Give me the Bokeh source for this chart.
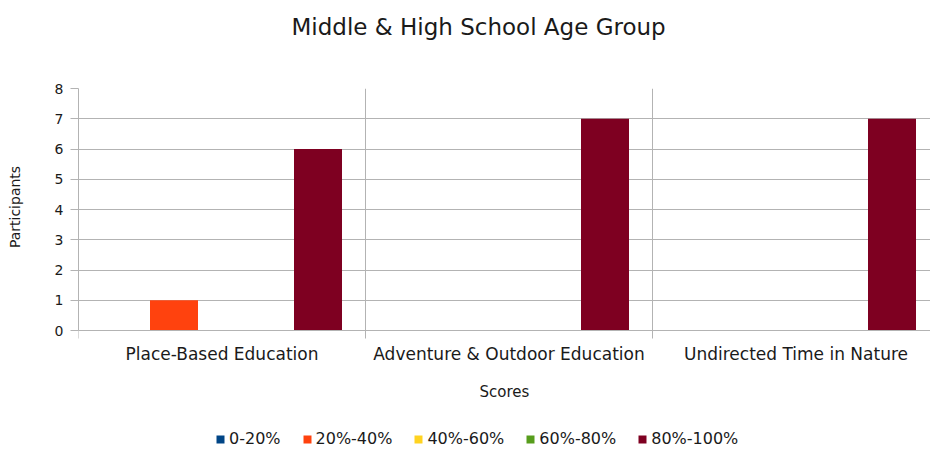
from bokeh.plotting import figure
from bokeh.models import (Range1d, FixedTicker, Legend, LegendItem, ColumnDataSource, Title,
                          Grid, LinearAxis)
from bokeh.transform import dodge
from bokeh.embed import file_html
from bokeh.resources import INLINE

# ---- data ----
categories = ["Place-Based Education", "Adventure & Outdoor Education", "Undirected Time in Nature"]
series_names = ["0-20%", "20%-40%", "40%-60%", "60%-80%", "80%-100%"]
s_0_20 = [0, 0, 0]
s_20_40 = [1, 0, 0]
s_40_60 = [0, 0, 0]
s_60_80 = [0, 0, 0]
s_80_100 = [6, 7, 7]
y_ticks = [0, 1, 2, 3, 4, 5, 6, 7, 8]

series_values = [s_0_20, s_20_40, s_40_60, s_60_80, s_80_100]
colors = ["#004586", "#ff420e", "#ffd320", "#579d1c", "#7e0021"]

FONT = "DejaVu Sans"
GRID = "#b3b3b3"
TXT = "#1a1a1a"

n = len(categories)
centers = [i + 0.5 for i in range(n)]
bounds_x = [i for i in range(n + 1)]
bar_w = 48 / 287
y_max = y_ticks[-1]

# frame extends below the value axis so the legend can sit inside it
p = figure(frame_width=852, frame_height=363, output_backend="svg", toolbar_location=None,
           x_range=Range1d(0, 852 / 287), y_range=Range1d(-121 / 30.25, y_max),
           min_border_left=78, min_border_right=0, min_border_top=88, min_border_bottom=0)
p.outline_line_color = None
p.background_fill_color = "white"
p.border_fill_color = "white"

items = []
for k, (name, vals) in enumerate(zip(series_names, series_values)):
    src = ColumnDataSource(dict(xc=centers, top=vals))
    r = p.vbar(x=dodge("xc", (k - 2) * bar_w, range=p.x_range), top="top", bottom=0,
               width=bar_w, source=src, fill_color=colors[k], line_color=None)
    items.append(LegendItem(label=name, renderers=[r]))

# spacer between title and plot frame
p.add_layout(Title(text=" ", text_font_size="10px", standoff=36), "above")

# title
p.title.text = "Middle & High School Age Group"
p.title.text_font = FONT
p.title.text_font_size = "23px"
p.title.text_font_style = "normal"
p.title.text_color = TXT
p.title.align = "left"
p.title.offset = 213
p.title.standoff = 0

# x axis (sits at value 0)
xa = p.xaxis[0]
xa.fixed_location = 0
xa.ticker = FixedTicker(ticks=centers, minor_ticks=bounds_x)
xa.major_label_overrides = {c: lab for c, lab in zip(centers, categories)}
xa.major_tick_line_color = None
xa.major_tick_out = 8
xa.major_tick_in = 0
xa.minor_tick_line_color = GRID
xa.minor_tick_out = 8
xa.minor_tick_in = 0
xa.axis_line_color = GRID
xa.major_label_text_font = FONT
xa.major_label_text_font_size = "17px"
xa.major_label_text_color = TXT
xa.major_label_standoff = 5
xa.axis_label = "Scores"
xa.axis_label_text_font = FONT
xa.axis_label_text_font_size = "15px"
xa.axis_label_text_font_style = "normal"
xa.axis_label_text_color = TXT
xa.axis_label_standoff = 16

# y axis
ya = p.yaxis[0]
ya.bounds = (0, y_max)
ya.ticker = FixedTicker(ticks=y_ticks)
ya.major_tick_line_color = GRID
ya.major_tick_out = 8
ya.major_tick_in = 0
ya.minor_tick_line_color = None
ya.axis_line_color = GRID
ya.major_label_text_font = FONT
ya.major_label_text_font_size = "14px"
ya.major_label_text_color = TXT
ya.major_label_standoff = 7
# leading em/en spaces centre the visible words on the 0-8 value span rather than the whole frame
ya.axis_label = "\u2003" * 8 + "\u2002\u2002" + "Participants"
ya.axis_label_text_font = FONT
ya.axis_label_text_font_size = "14px"
ya.axis_label_text_font_style = "normal"
ya.axis_label_text_color = TXT
ya.axis_label_standoff = 29

# grids
p.ygrid.ticker = FixedTicker(ticks=y_ticks)
p.ygrid.grid_line_color = GRID
if "cross_bounds" in Grid.properties():
    p.xgrid.ticker = FixedTicker(ticks=bounds_x[1:])
    p.xgrid.grid_line_color = GRID
    p.xgrid.cross_bounds = (0, y_max)
else:
    p.xgrid.grid_line_color = None
    for b in bounds_x[1:-1]:
        sep = LinearAxis(fixed_location=b, bounds=(0, y_max), ticker=FixedTicker(ticks=[]),
                         axis_line_color=GRID, major_tick_line_color=None,
                         minor_tick_line_color=None, major_label_text_font_size="0px")
        p.add_layout(sep, "left")

legend = Legend(items=items, orientation="horizontal", location=(137, 3),
                padding=0, margin=0, spacing=21, label_standoff=4,
                glyph_width=10, glyph_height=10,
                label_text_font=FONT, label_text_font_size="16px", label_text_color=TXT,
                border_line_color=None, background_fill_alpha=0)
p.add_layout(legend, "center")

open("out.html", "w").write(file_html(p, INLINE))
